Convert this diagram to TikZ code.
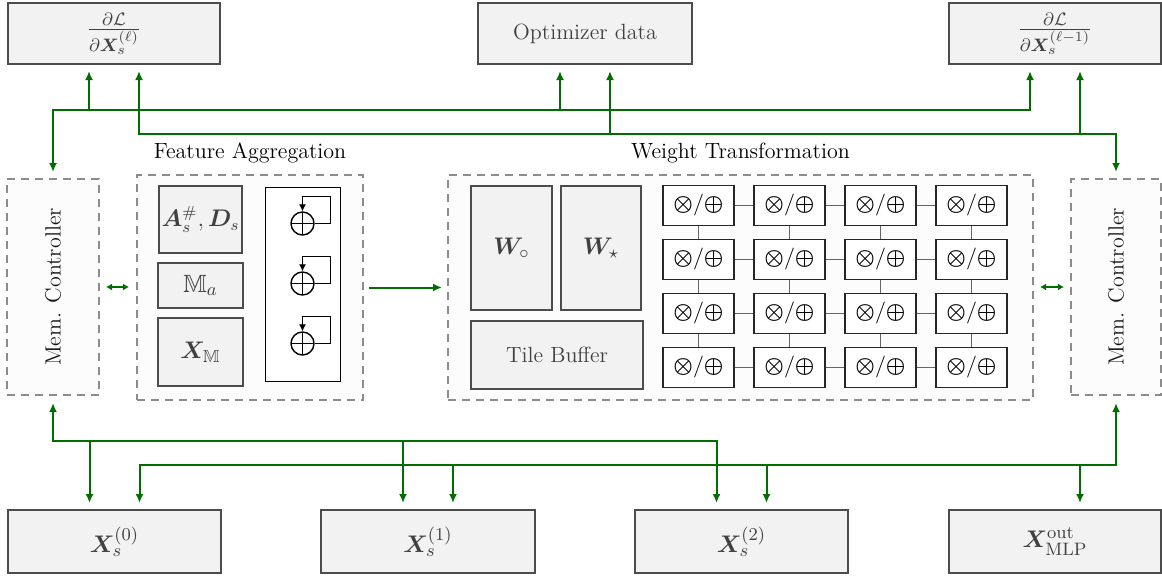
\documentclass[tikz,border=0pt]{standalone}
\usepackage{amsmath,amssymb,bm}
\usetikzlibrary{arrows.meta,calc}
\definecolor{flowgreen}{RGB}{0,110,0}
\begin{document}
\begin{tikzpicture}[x=0.5pt,y=-0.5pt,
  font=\fontsize{11}{13}\selectfont,
  flowtip/.tip={Latex[length=4.5pt,width=4pt]},
  sidetip/.tip={Latex[length=3pt,width=3.5pt]},
  iobox/.style={draw=black!70, line width=1pt, fill=black!5, text=black!75,
    inner sep=0pt, font=\fontsize{12.5}{14}\selectfont},
  fracbox/.style={iobox, font=\fontsize{13.5}{15}\selectfont},
  group/.style={draw=black!45, dash pattern=on 4pt off 3pt, line width=1pt,
    fill=black!1, inner sep=0pt},
  pe/.style={draw=black!85, line width=0.6pt, fill=white, minimum width=35.5pt,
    minimum height=20pt, inner sep=0pt, font=\fontsize{11}{13}\selectfont},
  accbox/.style={draw=black, line width=0.5pt, fill=white, inner sep=0pt},
  adder/.style={circle, draw=black, line width=0.7pt, minimum size=11.5pt, inner sep=0pt,
    path picture={\draw[line width=0.7pt] (path picture bounding box.north) -- (path picture bounding box.south)
      (path picture bounding box.west) -- (path picture bounding box.east);}},
  feedback/.style={draw=black, line width=0.5pt, -{Latex[length=3.5pt,width=3.5pt]}},
  link/.style={draw=black!60, line width=0.6pt},
  flow/.style={draw=flowgreen, line width=1pt},
]
\useasboundingbox (0,0) rectangle (1162,575);

% ---- top boxes
\node[fracbox, minimum width=106pt, minimum height=30.5pt] (t1) at (114,33.5)
  {$\frac{\partial\mathcal{L}}{\partial\bm{X}_s^{(\ell)}}$};
\node[iobox, minimum width=107pt, minimum height=30.5pt, font=\fontsize{11}{13}\selectfont] (topt) at (585,33.5)
  {Optimizer data};
\node[fracbox, minimum width=106pt, minimum height=30.5pt] (t3) at (1055,33.5)
  {$\frac{\partial\mathcal{L}}{\partial\bm{X}_s^{(\ell-1)}}$};

% ---- bottom boxes
\node[iobox, minimum width=106.5pt, minimum height=31.5pt] (b0) at (114.5,541.5) {$\bm{X}_s^{(0)}$};
\node[iobox, minimum width=107pt, minimum height=31.5pt] (b1) at (428,541.5) {$\bm{X}_s^{(1)}$};
\node[iobox, minimum width=106.5pt, minimum height=31.5pt] (b2) at (741.5,541.5) {$\bm{X}_s^{(2)}$};
\node[iobox, minimum width=106pt, minimum height=31.5pt] (b3) at (1055,541.5) {$\bm{X}^{\mathrm{out}}_{\mathrm{MLP}}$};

% ---- memory controllers
\node[group, minimum width=46pt, minimum height=108pt] (memL) at (53,287) {};
\node[rotate=90, text=black!90] (memLlbl) at (memL) {Mem. Controller};
\node[group, minimum width=45pt, minimum height=108pt] (memR) at (1116,287) {};
\node[rotate=90, text=black!90] (memRlbl) at (memR) {Mem. Controller};

% ---- feature aggregation
\node[group, minimum width=113pt, minimum height=112.5pt] (FA) at (250,287.5) {};
\node[anchor=base] (FAlbl) at (250,158) {Feature Aggregation};
\node[iobox, minimum width=41.5pt, minimum height=33.5pt, font=\fontsize{11.5}{13}\selectfont] (adj) at (200.5,219.5) {$\bm{A}_s^{\#}, \bm{D}_s$};
\node[iobox, minimum width=42.5pt, minimum height=22.5pt] (msk) at (200.5,285.5) {$\mathbb{M}_a$};
\node[iobox, minimum width=42.5pt, minimum height=34pt] (xm) at (200.5,352) {$\bm{X}_{\mathbb{M}}$};
\node[accbox, minimum width=37.5pt, minimum height=97pt] (acc) at (302.5,284) {};
\foreach \k/\yy in {1/223.5,2/283.5,3/343.5}{
  \node[adder] (add\k) at (302.5,\yy) {};
  \draw[feedback] (add\k.east) -- ++(16,0) |- ($(add\k.north)+(0,-15)$) -- (add\k.north);
}

% ---- weight transformation
\node[group, minimum width=292.5pt, minimum height=112.5pt] (WT) at (740.5,287.5) {};
\node[anchor=base] (WTlbl) at (740.5,158) {Weight Transformation};
\node[iobox, minimum width=40.5pt, minimum height=62pt] (wo) at (511.5,248) {$\bm{W}_{\circ}$};
\node[iobox, minimum width=40pt, minimum height=62pt] (ws) at (601,248) {$\bm{W}_{\star}$};
\node[iobox, minimum width=86pt, minimum height=34pt, font=\fontsize{11}{13}\selectfont] (tile) at (557,355) {Tile Buffer};

% processing element array
\foreach \j in {0,...,3}{
  \foreach \i in {0,...,3}{
    \node[pe] (pe-\j-\i) at ({698.5+91*\i},{205.5+54*\j}) {$\bm{\otimes}/\bm{\oplus}$};
  }
}
\foreach \j in {0,...,3}{
  \foreach \i/\k in {0/1,1/2,2/3}{
    \draw[link] (pe-\j-\i) -- (pe-\j-\k);
    \draw[link] (pe-\i-\j) -- (pe-\k-\j);
  }
}

% ---- side links
\draw[flow, sidetip-sidetip, shorten <=3pt, shorten >=3.5pt] (memL.east) -- (memL.east -| FA.west);
\draw[flow, sidetip-sidetip, shorten <=3pt, shorten >=3pt] (WT.east |- memR.west) -- (memR.west);
\draw[flow, -flowtip, shorten <=2.5pt, shorten >=2.5pt] (FA.east) -- (FA.east -| WT.west);

% ---- bus levels
\coordinate (ta) at (0,110);
\coordinate (tb) at (0,134);
\coordinate (ba) at (0,441);
\coordinate (bb) at (0,465);

\foreach \n in {t1,topt,t3}{
  \coordinate (\n a) at ($(\n.south)+(-25,0)$);
  \coordinate (\n b) at ($(\n.south)+(25,0)$);
}
\foreach \n in {b0,b1,b2,b3}{
  \coordinate (\n a) at ($(\n.north)+(-25,0)$);
  \coordinate (\n b) at ($(\n.north)+(25,0)$);
}

% ---- upper buses
\draw[flow, flowtip-flowtip, shorten <=3pt, shorten >=3pt]
  (t3a) -- (t3a |- ta) -- (memL.north |- ta) -- (memL.north);
\draw[flow, -flowtip, shorten >=3pt] (t1a |- ta) -- (t1a);
\draw[flow, -flowtip, shorten >=3pt] (topta |- ta) -- (topta);

\draw[flow, flowtip-flowtip, shorten <=3pt, shorten >=3pt]
  (t1b) -- (t1b |- tb) -- (memR.north |- tb) -- (memR.north);
\draw[flow, -flowtip, shorten >=3pt] (toptb |- tb) -- (toptb);
\draw[flow, -flowtip, shorten >=3pt] (t3b |- tb) -- (t3b);

% ---- lower buses
\draw[flow, flowtip-flowtip, shorten <=3.5pt, shorten >=3pt]
  (memL.south) -- (memL.south |- ba) -- (b2a |- ba) -- (b2a);
\draw[flow, -flowtip, shorten >=3pt] (b0a |- ba) -- (b0a);
\draw[flow, -flowtip, shorten >=3pt] (b1a |- ba) -- (b1a);

\draw[flow, flowtip-flowtip, shorten <=3pt, shorten >=3.5pt]
  (b0b) -- (b0b |- bb) -- (memR.south |- bb) -- (memR.south);
\draw[flow, -flowtip, shorten >=3pt] (b1b |- bb) -- (b1b);
\draw[flow, -flowtip, shorten >=3pt] (b2b |- bb) -- (b2b);
\draw[flow, -flowtip, shorten >=3pt] (b3b |- bb) -- (b3b);
\end{tikzpicture}
\end{document}
